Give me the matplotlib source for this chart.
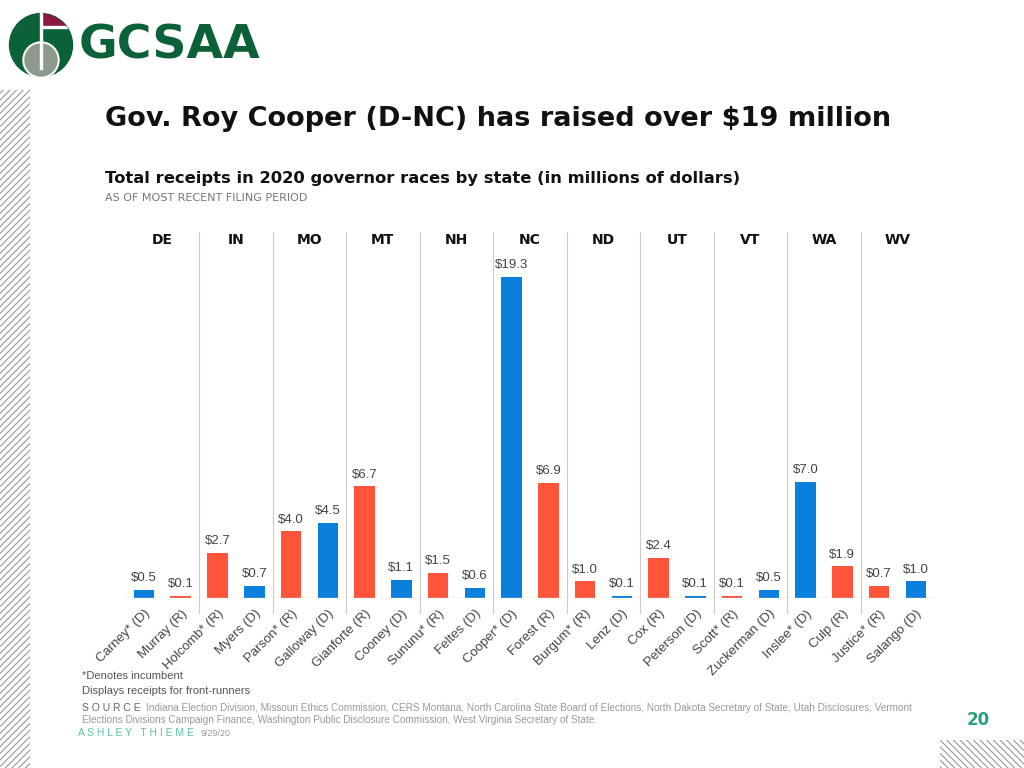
import numpy as np
import matplotlib.pyplot as plt
from matplotlib.patches import Rectangle, Circle

# Daten
states = ["DE", "IN", "MO", "MT", "NH", "NC", "ND", "UT", "VT", "WA", "WV"]
candidates = ["Carney* (D)", "Murray (R)", "Holcomb* (R)", "Myers (D)", "Parson* (R)",
              "Galloway (D)", "Gianforte (R)", "Cooney (D)", "Sununu* (R)", "Feltes (D)",
              "Cooper* (D)", "Forest (R)", "Burgum* (R)", "Lenz (D)", "Cox (R)",
              "Peterson (D)", "Scott* (R)", "Zuckerman (D)", "Inslee* (D)", "Culp (R)",
              "Justice* (R)", "Salango (D)"]
receipts = [0.5, 0.1, 2.7, 0.7, 4.0, 4.5, 6.7, 1.1, 1.5, 0.6, 19.3,
            6.9, 1.0, 0.1, 2.4, 0.1, 0.1, 0.5, 7.0, 1.9, 0.7, 1.0]
party = ["D", "R", "R", "D", "R", "D", "R", "D", "R", "D", "D",
         "R", "R", "D", "R", "D", "R", "D", "D", "R", "R", "D"]

BLUE = "#0b7fdc"
RED = "#fd543a"
GREEN = "#0b6138"
TEAL = "#2f9e7c"
HEAVY = ['DejaVu Sans']  # breite, fette Schrift wie im Original

plt.rcParams['font.family'] = ['Liberation Sans', 'DejaVu Sans']
plt.rcParams['hatch.linewidth'] = 0.7

fig = plt.figure(figsize=(10.24, 7.68), dpi=100)

# Hintergrund-Ebene in Pixelkoordinaten
bg = fig.add_axes([0, 0, 1, 1])
bg.set_xlim(0, 1024); bg.set_ylim(768, 0); bg.axis("off")
bg.add_patch(Rectangle((0, 90), 30, 678, facecolor="white", edgecolor="#8c8c8c",
                       hatch="/////", linewidth=0))
bg.add_patch(Rectangle((940, 740), 84, 28, facecolor="white", edgecolor="#8c8c8c",
                       hatch="\\\\\\\\\\", linewidth=0))

# Logo
disc = Circle((41, 45), 31.5, color=GREEN)
bg.add_patch(disc)
maroon = Rectangle((42, 8), 40, 18, color="#8a1a3f")
bg.add_patch(maroon); maroon.set_clip_path(disc)
hline = Rectangle((42, 25.5), 40, 2, color="white")
bg.add_patch(hline); hline.set_clip_path(disc)
bg.add_patch(Circle((41, 60), 18, color="white"))
bg.add_patch(Circle((41, 60), 16, color="#8f9a8f"))
bg.add_patch(Rectangle((40, 10), 2.3, 59, color="white"))
bg.text(79, 46, "GCSAA", fontsize=34, fontweight="bold", color=GREEN, va="center",
        family=HEAVY)

# Titel
bg.text(105, 119, "Gov. Roy Cooper (D-NC) has raised over $19 million",
        fontsize=19.5, fontweight="bold", va="center", color="#111111", family=HEAVY)
bg.text(105, 178, "Total receipts in 2020 governor races by state (in millions of dollars)",
        fontsize=11.8, fontweight="bold", va="center", color="#111111", family=HEAVY)
bg.text(105, 198, "AS OF MOST RECENT FILING PERIOD", fontsize=8, va="center",
        color="#777777", family=HEAVY)

# Fußzeile
bg.text(82, 676, "*Denotes incumbent", fontsize=8, va="center", color="#555555")
bg.text(82, 691, "Displays receipts for front-runners", fontsize=8, va="center", color="#555555")
bg.text(82, 708, "S O U R C E", fontsize=7.5, va="center", color="#666666")
bg.text(146, 708, "Indiana Election Division, Missouri Ethics Commission, CERS Montana, "
        "North Carolina State Board of Elections, North Dakota Secretary of State, "
        "Utah Disclosures, Vermont", fontsize=7.2, va="center", color="#999999")
bg.text(82, 720, "Elections Divisions Campaign Finance, Washington Public Disclosure "
        "Commission, West Virginia Secretary of State.", fontsize=7.2, va="center", color="#999999")
bg.text(78, 733, "A S H L E Y   T H I E M E", fontsize=7.5, va="center", color="#5fc0a0")
bg.text(201, 733, "9/29/20", fontsize=6.5, va="center", color="#999999")
bg.text(978, 720, "20", fontsize=12, fontweight="bold", va="center", ha="center",
        color=TEAL, family=HEAVY)

# Balkendiagramm
ax = fig.add_axes([0.122, 0.2214, 0.791, 0.4766])
x = np.arange(len(candidates))
colors = [BLUE if p == "D" else RED for p in party]
ax.bar(x, receipts, width=0.56, color=colors, zorder=3)
for xi, v in zip(x, receipts):
    ax.text(xi, v + 0.35, f"${v:.1f}", ha="center", va="bottom", fontsize=9.5, color="#444444")

ax.set_xlim(-0.52, len(candidates) - 0.48)
ax.set_ylim(0, 22)
for s in ax.spines.values():
    s.set_visible(False)
ax.axhline(0, color="#cccccc", linewidth=1, zorder=4)
ax.set_yticks([])

ax.set_xticks(x)
ax.set_xticklabels(candidates, rotation=45, ha="right", rotation_mode="anchor",
                   fontsize=9.5, color="#444444")
ax.tick_params(axis="x", length=0, pad=7)

# Staaten-Trennlinien und Überschriften
for i in range(1, len(states)):
    ax.axvline(2 * i - 0.5, ymin=-0.04, ymax=1, color="#cccccc", linewidth=0.8, clip_on=False)
for i, st in enumerate(states):
    ax.text(2 * i + 0.5, 0.977, st, transform=ax.get_xaxis_transform(), ha="center",
            va="center", fontsize=10, fontweight="bold", color="#111111", family=HEAVY)

fig.savefig("out.png", dpi=100)
